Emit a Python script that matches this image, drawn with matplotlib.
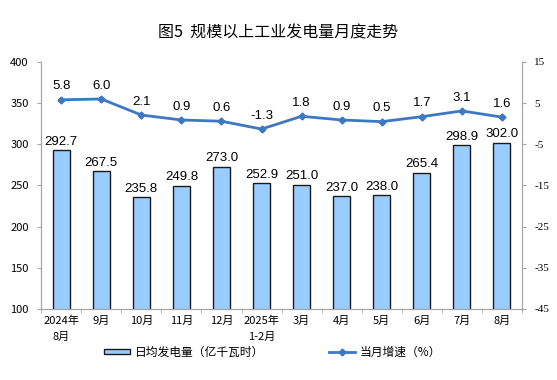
import matplotlib.pyplot as plt
import numpy as np

plt.rcParams['font.family'] = ['Noto Sans CJK SC', 'DejaVu Sans']

# -----------------
# Data
# -----------------
months = ['2024年\n8月', '9月', '10月', '11月', '12月', '2025年\n1-2月',
          '3月', '4月', '5月', '6月', '7月', '8月']
daily_output = [292.7, 267.5, 235.8, 249.8, 273.0, 252.9,
                251.0, 237.0, 238.0, 265.4, 298.9, 302.0]
growth = [5.8, 6.0, 2.1, 0.9, 0.6, -1.3, 1.8, 0.9, 0.5, 1.7, 3.1, 1.6]

bar_color = '#99CCFF'
line_color = '#3D78C2'
spine_color = '#A6A6A6'

# -----------------
# Plot
# -----------------
fig = plt.figure(figsize=(5.57, 3.8), dpi=100)
ax = fig.add_axes([0.074, 0.187, 0.863, 0.650])
ax2 = ax.twinx()

x = np.arange(len(months))
bars = ax.bar(x, daily_output, width=0.42, color=bar_color,
              edgecolor='#1a1a1a', linewidth=1.0, label='日均发电量（亿千瓦时）', zorder=2)
for xi, v in zip(x, daily_output):
    ax.text(xi, v + 3, f'{v:.1f}', ha='center', va='bottom', fontsize=9.5,
            family=['Liberation Sans', 'DejaVu Sans'])

ax.set_ylim(100, 400)
ax.set_yticks(range(100, 401, 50))
ax.set_xlim(-0.5, len(months) - 0.5)
ax.set_xticks(x)
ax.set_xticklabels(months, fontsize=8, linespacing=1.7)
ax.set_xticks(np.arange(-0.5, len(months), 1), minor=True)
ax.tick_params(axis='x', which='major', length=0, pad=5)
ax.tick_params(axis='x', which='minor', length=3, color=spine_color)
ax.tick_params(axis='y', labelsize=8, length=3, color=spine_color, pad=6)

ax2.plot(x, growth, color=line_color, linewidth=2, marker='D', markersize=3.5,
         label='当月增速（%）', zorder=3)
for xi, v in zip(x, growth):
    ax2.text(xi, v + 1.8, f'{v:.1f}', ha='center', va='bottom', fontsize=9.5,
             family=['Liberation Sans', 'DejaVu Sans'])
ax2.set_ylim(-45, 15)
ax2.set_yticks(range(-45, 16, 10))
ax2.set_yticklabels([str(t) for t in range(-45, 16, 10)],
                    family=['Liberation Serif', 'DejaVu Serif'], fontsize=8)
ax2.tick_params(axis='y', length=3, color=spine_color, pad=6)

for a in (ax, ax2):
    a.spines['top'].set_visible(False)
    for s in ('left', 'right', 'bottom'):
        a.spines[s].set_color(spine_color)
        a.spines[s].set_linewidth(0.8)

fig.suptitle('图5  规模以上工业发电量月度走势', fontsize=11.5, fontweight='medium',
             y=0.912, va='center')

handles = [bars, ax2.get_lines()[0]]
fig.legend(handles, [h.get_label() for h in handles], loc='center',
           bbox_to_anchor=(0.49, 0.073), ncol=2, frameon=False, fontsize=8.5,
           columnspacing=5.5, handlelength=2.2, handleheight=0.35, handletextpad=0.4)

fig.savefig('out.png', dpi=100)
